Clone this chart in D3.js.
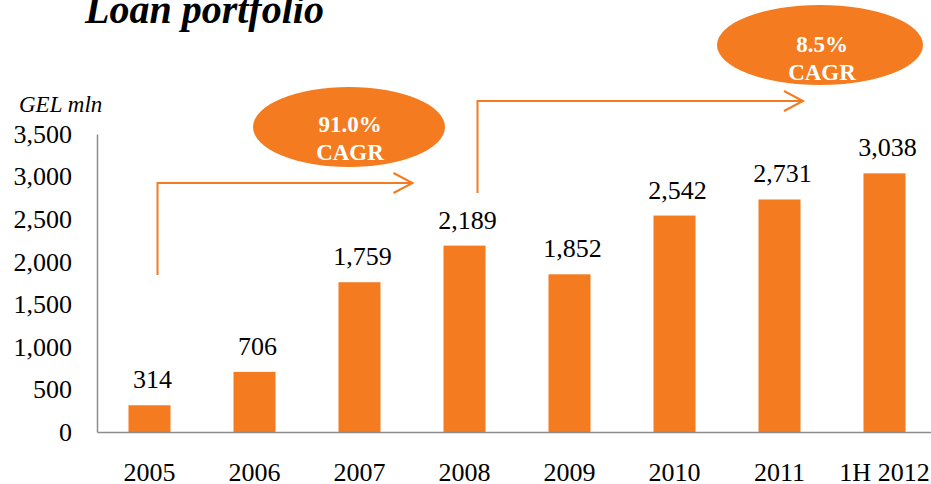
<!DOCTYPE html>
<html>
<head>
<meta charset="utf-8">
<script src="https://cdn.jsdelivr.net/npm/d3@7"></script>
<style>
  body { margin: 0; background: #fff; }
  svg text { font-family: "Liberation Serif", Tinos, "Times New Roman", Times, "DejaVu Serif", serif; }
</style>
</head>
<body>
<div id="chart"></div>
<script>
var categories = ["2005", "2006", "2007", "2008", "2009", "2010", "2011", "1H 2012"];
var loans = [314, 706, 1759, 2189, 1852, 2542, 2731, 3038];
var yTicks = [0, 500, 1000, 1500, 2000, 2500, 3000, 3500];
var cagrLabels = [["91.0%", "CAGR"], ["8.5%", "CAGR"]];

var width = 931;
var height = 484;
var orange = "#f47b20";

var svg = d3.select("#chart").append("svg")
    .attr("width", width)
    .attr("height", height);

var x = d3.scaleBand()
    .domain(categories)
    .range([97, 937])
    .paddingInner(0.6)
    .paddingOuter(0.3);

var y = d3.scaleLinear()
    .domain([0, 3500])
    .range([432, 134]);

// title
svg.append("text")
    .attr("x", 85)
    .attr("y", 23)
    .style("font-size", "40px")
    .style("font-weight", "bold")
    .style("font-style", "italic")
    .text("Loan portfolio");

svg.append("text")
    .attr("x", 19)
    .attr("y", 112)
    .style("font-size", "23px")
    .style("font-style", "italic")
    .text("GEL mln");

// bars
svg.selectAll(".bar")
    .data(loans)
    .enter().append("rect")
    .attr("class", "bar")
    .attr("x", function (d, i) { return x(categories[i]); })
    .attr("y", function (d) { return y(d); })
    .attr("width", x.bandwidth())
    .attr("height", function (d) { return y(0) - y(d); })
    .style("fill", orange);

svg.selectAll(".value")
    .data(loans)
    .enter().append("text")
    .attr("class", "value")
    .attr("x", function (d, i) { return x(categories[i]) + x.bandwidth() / 2 + 3; })
    .attr("y", function (d) { return y(d) - 17; })
    .attr("text-anchor", "middle")
    .style("font-size", "26px")
    .text(function (d) { return d3.format(",")(d); });

// y axis
var yAxis = svg.append("g")
    .attr("transform", "translate(97,0)")
    .call(d3.axisLeft(y).tickValues(yTicks).tickSize(0).tickPadding(25).tickFormat(d3.format(",")));
yAxis.attr("font-family", null);
yAxis.select(".domain").attr("stroke", "#8c8c8c").attr("stroke-width", 1.5);
yAxis.selectAll("text")
    .style("font-size", "26px")
    .attr("dy", "0.32em")
    .style("fill", "#000");

// x axis
var xAxis = svg.append("g")
    .attr("transform", "translate(0,432)")
    .call(d3.axisBottom(x).tickSize(0).tickPadding(40));
xAxis.attr("font-family", null);
xAxis.select(".domain").attr("stroke", "#8c8c8c").attr("stroke-width", 1.5);
xAxis.selectAll("text")
    .style("font-size", "26px")
    .attr("dy", "0.33em")
    .style("fill", "#000");

// CAGR arrows
function bandCenter(c) { return x(c) + x.bandwidth() / 2; }

var arrows = [
    { x0: bandCenter("2005") + 8, y0: 275, y1: 183, x1: bandCenter("2007") + 53 },
    { x0: bandCenter("2008") + 13, y0: 193, y1: 101, x1: 803 }
];

arrows.forEach(function (a) {
    svg.append("path")
        .attr("d", "M" + a.x0 + "," + a.y0 + "V" + a.y1 + "H" + a.x1)
        .attr("fill", "none")
        .attr("stroke", orange)
        .attr("stroke-width", 2);
    svg.append("path")
        .attr("d", "M" + (a.x1 - 19) + "," + (a.y1 - 10) + "L" + a.x1 + "," + a.y1 + "L" + (a.x1 - 19) + "," + (a.y1 + 10))
        .attr("fill", "none")
        .attr("stroke", orange)
        .attr("stroke-width", 2);
});

// CAGR bubbles
var bubbles = [
    { cx: 349, cy: 127, rx: 96, ry: 40, tx: 350, dy1: 5, dy2: 33 },
    { cx: 820, cy: 45, rx: 103, ry: 40, tx: 822, dy1: 7, dy2: 35 }
];

bubbles.forEach(function (b, i) {
    svg.append("ellipse")
        .attr("cx", b.cx)
        .attr("cy", b.cy)
        .attr("rx", b.rx)
        .attr("ry", b.ry)
        .style("fill", orange);
    svg.append("text")
        .attr("x", b.tx)
        .attr("y", b.cy + b.dy1)
        .attr("text-anchor", "middle")
        .style("font-size", "23px")
        .style("font-weight", "bold")
        .style("fill", "#fff")
        .text(cagrLabels[i][0]);
    svg.append("text")
        .attr("x", b.tx)
        .attr("y", b.cy + b.dy2)
        .attr("text-anchor", "middle")
        .style("font-size", "23px")
        .style("font-weight", "bold")
        .style("fill", "#fff")
        .text(cagrLabels[i][1]);
});
</script>
</body>
</html>
